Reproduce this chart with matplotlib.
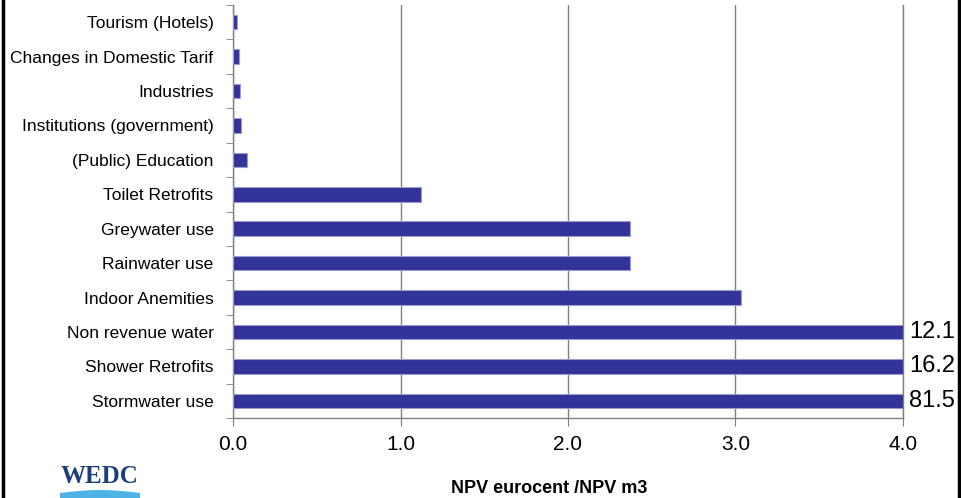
import numpy as np
import matplotlib.pyplot as plt
from matplotlib.lines import Line2D
from matplotlib.patches import Polygon

plt.rcParams['font.family'] = ['Liberation Sans', 'DejaVu Sans']

# measures, top to bottom as listed on the axis
measures = ['Tourism (Hotels)', 'Changes in Domestic Tarif', 'Industries',
            'Institutions (government)', '(Public) Education', 'Toilet Retrofits',
            'Greywater use', 'Rainwater use', 'Indoor Anemities',
            'Non revenue water', 'Shower Retrofits', 'Stormwater use']
# cost per m3 saved (NPV eurocent / NPV m3)
npv_ratio = [0.024, 0.036, 0.04, 0.045, 0.085, 1.12,
             2.37, 2.37, 3.03, 12.1, 16.2, 81.5]
x_ticks = [0.0, 1.0, 2.0, 3.0, 4.0]
x_max = 4.0

fig = plt.figure(figsize=(9.61, 4.98), dpi=100)
ax = fig.add_axes([0.2425, 0.1606, 0.6971, 0.8294])

ypos = np.arange(len(measures))
ax.barh(ypos, np.minimum(npv_ratio, x_max), height=0.42, color='#333399',
        edgecolor='#9c9ccc', linewidth=0.8, zorder=3)

# bars running off the scale get their value written at the end
for y, v in zip(ypos, npv_ratio):
    if v > x_max:
        ax.annotate('%.1f' % v, (x_max, y), xytext=(4.5, 0),
                    textcoords='offset points', va='center', ha='left',
                    fontsize=17, annotation_clip=False)

ax.set_xlim(0, x_max)
ax.set_ylim(len(measures) - 0.5, -0.5)
ax.set_xticks(x_ticks)
ax.set_xticklabels(['%.1f' % t for t in x_ticks], fontsize=15)
ax.set_yticks(ypos)
ax.set_yticklabels(measures, fontsize=12.5)
ax.set_yticks(np.arange(len(measures) + 1) - 0.5, minor=True)
ax.tick_params(axis='y', which='major', length=0, pad=14)
ax.tick_params(axis='y', which='minor', length=5, color='#808080')
ax.tick_params(axis='x', length=6, color='#808080', pad=6)
ax.grid(axis='x', color='#808080', linewidth=1, zorder=0)

ax.spines['top'].set_visible(False)
for s in ['left', 'bottom', 'right']:
    ax.spines[s].set_color('#808080')
    ax.spines[s].set_linewidth(1)

fig.text(549 / 961, 1 - 488 / 498, 'NPV eurocent /NPV m3', fontsize=13,
         fontweight='bold', ha='center', va='center')

# WEDC logo in the lower left corner
fig.text(100 / 961, 1 - 476 / 498, 'WEDC', family='Liberation Serif',
         fontsize=18, fontweight='bold', color='#1d3f7d', ha='center',
         va='center')
wx = np.linspace(60, 140, 40)
wy = 493 - 3 * np.sin((wx - 60) / 80 * np.pi)
wave = np.column_stack([np.r_[wx, 140, 60] / 961,
                        1 - np.r_[wy, 498, 498] / 498])
fig.add_artist(Polygon(wave, closed=True, transform=fig.transFigure,
                       color='#4db3e6', lw=0))

# frame lines at the sides
for xf in [2.5 / 961, 958.5 / 961]:
    fig.add_artist(Line2D([xf, xf], [0, 1], transform=fig.transFigure,
                          color='black', linewidth=2.5))

fig.savefig('out.png', dpi=100)
